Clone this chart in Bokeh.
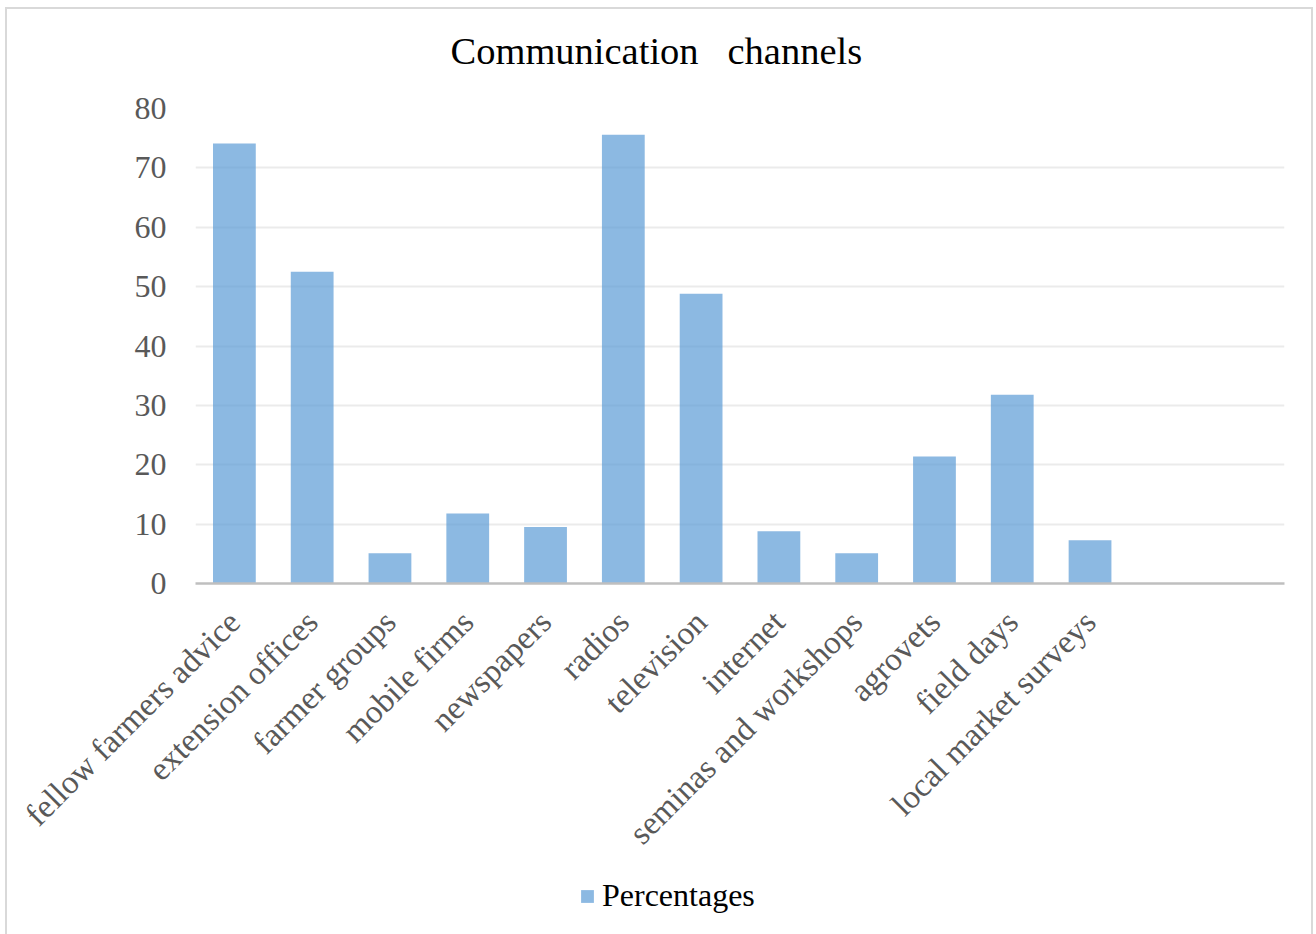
from math import pi

from bokeh.embed import file_html
from bokeh.layouts import column
from bokeh.models import (ColumnDataSource, FactorRange, Legend, LegendItem, Range1d,
                          SingleIntervalTicker, Title)
from bokeh.plotting import figure
from bokeh.resources import INLINE

# Survey results: share of respondents using each communication channel
channels = [
    "fellow farmers advice",
    "extension offices",
    "farmer groups",
    "mobile firms",
    "newspapers",
    "radios",
    "television",
    "internet",
    "seminas and workshops",
    "agrovets",
    "field days",
    "local market surveys",
]
percentages = [74.1, 52.5, 5.1, 11.8, 9.5, 75.6, 48.8, 8.8, 5.1, 21.4, 31.8, 7.3]

# two unused slots at the end of the category axis
empty_slots = [" ", "  "]

SERIF = "Liberation Serif"
BAR_STYLE = dict(width=0.55, fill_color="#5B9BD5", fill_alpha=0.7, line_color=None)

source = ColumnDataSource(data=dict(channel=channels, pct=percentages))
x_range = FactorRange(factors=channels + empty_slots, range_padding=0)

# ---- main bar chart ----
p = figure(
    width=1304,
    height=860,
    x_range=x_range,
    y_range=Range1d(0, 80),
    output_backend="svg",
    toolbar_location=None,
    min_border_left=188,
    min_border_right=27,
    min_border_top=99,
    min_border_bottom=286,
)

# spacer keeps the heading clear of the plot area
p.add_layout(Title(text=" ", text_font_size="1px", standoff=34), "above")
p.add_layout(
    Title(
        text="Communication\u00a0\u00a0\u00a0channels",
        align="left",
        offset=255,
        text_font=SERIF,
        text_font_size="38.5px",
        text_font_style="normal",
        text_color="#000000",
        standoff=0,
    ),
    "above",
)

p.vbar(x="channel", top="pct", source=source, **BAR_STYLE)

p.outline_line_color = None
p.background_fill_color = "white"
p.border_fill_color = "white"

p.xgrid.grid_line_color = None
p.ygrid.grid_line_color = "#ebebeb"
p.ygrid.grid_line_width = 2

p.yaxis.ticker = SingleIntervalTicker(interval=10)
p.yaxis.axis_line_color = None
p.yaxis.major_tick_line_color = None
p.yaxis.minor_tick_line_color = None
p.yaxis.major_label_text_font = SERIF
p.yaxis.major_label_text_font_size = "32px"
p.yaxis.major_label_text_color = "#595959"
p.yaxis.major_label_standoff = 23

p.xaxis.axis_line_color = "#bfbfbf"
p.xaxis.axis_line_width = 2.5
p.xaxis.major_tick_line_color = None
p.xaxis.minor_tick_line_color = None
p.xaxis.major_label_orientation = pi / 4
p.xaxis.major_label_text_font = SERIF
p.xaxis.major_label_text_font_size = "33px"
p.xaxis.major_label_text_color = "#595959"
p.xaxis.major_label_standoff = 27

# ---- legend strip under the chart ----
# same series on the shared category axis, with a y window far above the
# data so only its legend swatch shows
lg = figure(
    width=1304,
    height=65,
    x_range=x_range,
    y_range=Range1d(1000, 1001),
    output_backend="svg",
    toolbar_location=None,
    x_axis_location=None,
    y_axis_location=None,
    min_border=0,
)
lg.grid.grid_line_color = None
lg.outline_line_color = None
lg.background_fill_color = "white"
lg.border_fill_color = "white"

series = lg.vbar(x="channel", top="pct", source=source, **BAR_STYLE)

legend = Legend(
    items=[LegendItem(label="Percentages", renderers=[series])],
    location=(384, 20),
    orientation="horizontal",
    label_text_font=SERIF,
    label_text_font_size="32px",
    label_text_color="#000000",
    glyph_width=16,
    glyph_height=16,
    label_standoff=7,
    border_line_color=None,
    background_fill_alpha=0,
    margin=0,
    padding=0,
)
lg.add_layout(legend)

layout = column(p, lg, spacing=0)
layout.styles = {
    "margin-left": "5px",
    "margin-top": "7px",
    "border": "2px solid #d9d9d9",
}

open("out.html", "w").write(file_html(layout, INLINE))
